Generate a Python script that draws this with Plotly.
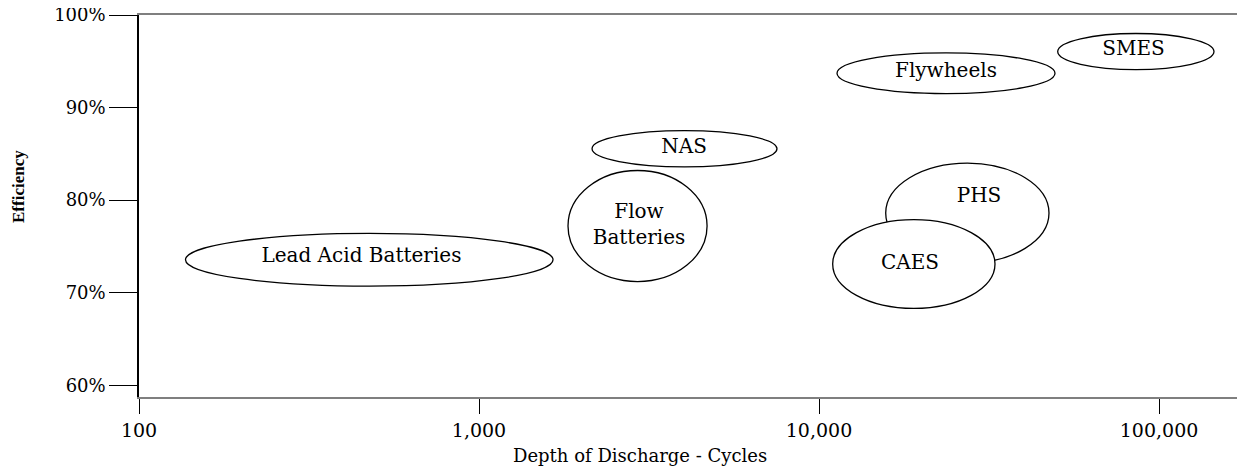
import plotly.graph_objects as go

# ---- data ----
technologies = ["Lead Acid Batteries", "Flow<br>Batteries", "NAS", "Flywheels", "SMES", "PHS", "CAES"]
cycles_min = [137, 1827, 2150, 11296, 50350, 15710, 10970]
cycles_max = [1651, 4686, 7523, 49440, 145100, 47470, 32930]
eff_min = [70.7, 71.2, 83.6, 91.5, 94.1, 73.2, 68.3]
eff_max = [76.4, 83.2, 87.5, 95.9, 98.0, 84.0, 77.9]
label_cycles = [451, 2955, 4009, 23630, 84140, 29550, 18520]
label_eff = [73.85, 77.2, 85.6, 93.84, 96.22, 80.34, 73.15]

x_tickvals = [100, 1000, 10000, 100000]
x_ticktext = ["100", "1,000", "10,000", "100,000"]
y_tickvals = [60, 70, 80, 90, 100]
y_ticktext = ["60%", "70%", "80%", "90%", "100%"]

SERIF = "DejaVu Serif"

fig = go.Figure()

shapes = []
for i in range(len(technologies)):
    shapes.append(dict(
        type="circle", xref="x", yref="y", layer="below",
        x0=cycles_min[i], x1=cycles_max[i],
        y0=eff_min[i], y1=eff_max[i],
        line=dict(color="black", width=1.3), fillcolor="white",
    ))

fig.add_trace(go.Scatter(
    x=label_cycles, y=label_eff, text=technologies, mode="text",
    textfont=dict(family=SERIF, size=20, color="black"),
    hoverinfo="skip", showlegend=False,
))

# page body has an 8px margin; figure is sized/margined to compensate
fig.update_layout(
    width=1237, height=458,
    margin=dict(l=131, r=2, t=7, b=69, autoexpand=False),
    paper_bgcolor="white", plot_bgcolor="white",
    shapes=shapes,
    showlegend=False,
    xaxis=dict(
        type="log", range=[2, 5.247], automargin=False,
        tickvals=x_tickvals, ticktext=x_ticktext,
        ticks="outside", ticklen=15, tickcolor="black", tickwidth=1.3,
        showline=True, linecolor="#7f7f7f", linewidth=1.5, mirror=True,
        showgrid=False, zeroline=False,
        tickfont=dict(family=SERIF, size=19, color="black"),
    ),
    yaxis=dict(
        range=[58.73, 100.0], automargin=False,
        tickvals=y_tickvals, ticktext=y_ticktext,
        ticks="outside", ticklen=28, tickcolor="black", tickwidth=1.3,
        showline=True, linecolor="black", linewidth=1.5,
        showgrid=False, zeroline=False, ticklabeloverflow="allow",
        tickfont=dict(family=SERIF, size=18, color="black"),
    ),
    annotations=[
        dict(text="Depth of Discharge - Cycles", xref="paper", yref="paper",
             x=(640 - 139) / 1104, y=-(455 - 397) / 382, xanchor="center", yanchor="middle",
             showarrow=False, font=dict(family=SERIF, size=18, color="black")),
        dict(text="<b>Efficiency</b>", xref="paper", yref="paper", textangle=-90,
             x=(18 - 139) / 1104, y=(397 - 187) / 382, xanchor="center", yanchor="middle",
             showarrow=False, font=dict(family="Liberation Serif", size=17, color="black")),
    ],
)

fig.write_html("out.html")
